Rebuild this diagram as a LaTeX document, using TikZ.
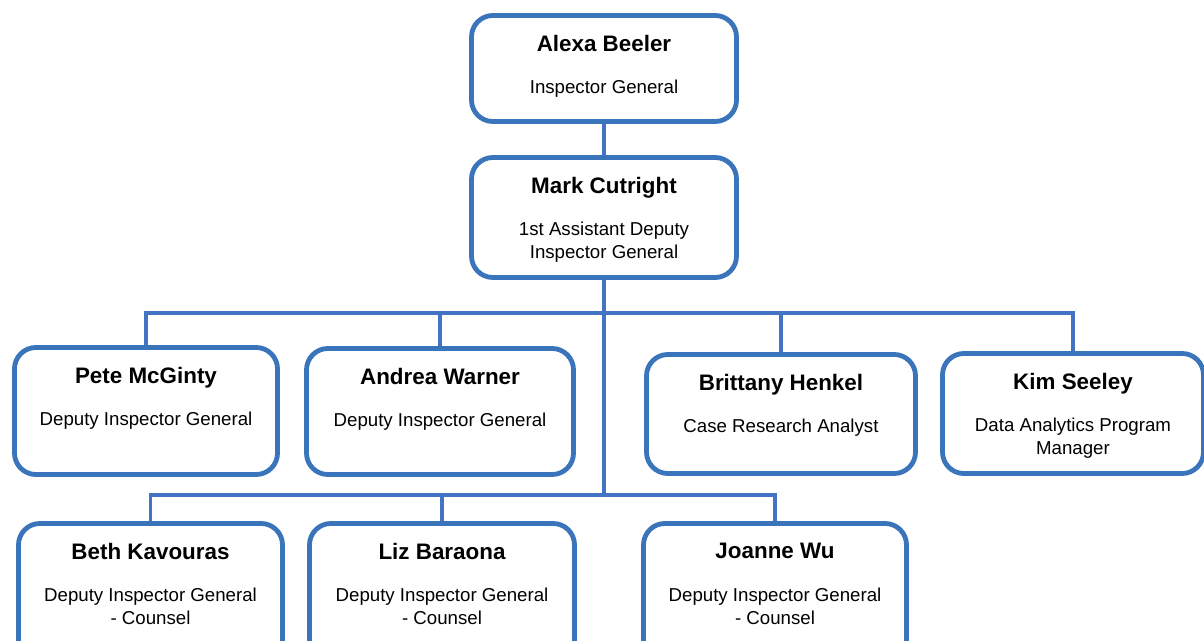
\documentclass[tikz,border=0pt]{standalone}
\usepackage{fontspec}
\setmainfont{Liberation Sans}
\definecolor{boxblue}{HTML}{3A74BA}
\definecolor{lineblue}{HTML}{4472C4}
\tikzset{
  box/.style={draw=boxblue, line width=3.6pt, rounded corners=16pt, fill=white, inner sep=0pt},
  nm/.style={font=\fontsize{16.8}{19}\selectfont\bfseries, anchor=north, inner sep=0pt},
  tt/.style={font=\fontsize{14}{17.25}\selectfont, anchor=north, inner sep=0pt, align=center},
  conn/.style={draw=lineblue, line width=2.4pt},
}
\newcommand\pbox[7]{%
  \node[box, minimum width={(#4-#2-5)*0.75pt}, minimum height={(#5-#3-5)*0.75pt}] (#1) at ({(#2+#4)/2},{(#3+#5)/2}) {};
  \node[nm] (#1n) at ({(#2+#4)/2},{#3+22.3}) {#6};
  \node[tt] (#1t) at ({(#2+#4)/2},{#3+66.3}) {#7};
}
\begin{document}
\begin{tikzpicture}[x=0.75pt, y=-0.75pt]
  \useasboundingbox (0,0) rectangle (1204,641);
  \fill[white] (0,0) rectangle (1204,641);
  \clip (0,0) rectangle (1204,641);
  \pbox{alexa}{469}{13}{739}{124}{Alexa Beeler}{Inspector General}
  \pbox{mark}{469}{155}{739}{280}{Mark Cutright}{1st Assistant Deputy\\Inspector General}
  \pbox{pete}{12}{345}{280}{477}{Pete McGinty}{Deputy Inspector General}
  \pbox{andrea}{304}{346}{576}{477}{Andrea Warner}{Deputy Inspector General}
  \pbox{brittany}{644}{352}{918}{476}{Brittany Henkel}{Case Research Analyst}
  \pbox{kim}{940}{351}{1206}{476}{Kim Seeley}{Data Analytics Program\\Manager}
  \pbox{beth}{16}{521}{285}{665}{Beth Kavouras}{Deputy Inspector General\\- Counsel}
  \pbox{liz}{307}{521}{577}{665}{Liz Baraona}{Deputy Inspector General\\- Counsel}
  \pbox{joanne}{641}{521}{909}{665}{Joanne Wu}{Deputy Inspector General\\- Counsel}
  \coordinate (bus1) at (604,313);
  \coordinate (bus2) at (604,495);
  \draw[conn] (alexa.south) -- (mark.north);
  \draw[conn] (mark.south) -- (mark.south |- bus2);
  \draw[conn] (pete.north) -- (pete.north |- bus1) -- (kim.north |- bus1) -- (kim.north);
  \draw[conn] (andrea.north) -- (andrea.north |- bus1);
  \draw[conn] (brittany.north) -- (brittany.north |- bus1);
  \draw[conn] (beth.north) -- (beth.north |- bus2) -- (joanne.north |- bus2) -- (joanne.north);
  \draw[conn] (liz.north) -- (liz.north |- bus2);
\end{tikzpicture}
\end{document}
